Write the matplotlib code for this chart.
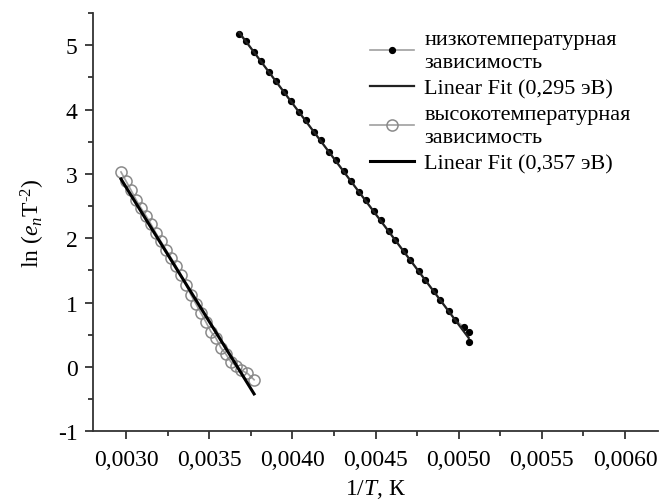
import numpy as np
import matplotlib.pyplot as plt
from matplotlib.ticker import FuncFormatter, MultipleLocator

plt.rcParams['font.family'] = ['Liberation Serif', 'DejaVu Serif']
plt.rcParams['mathtext.fontset'] = 'custom'
plt.rcParams['mathtext.rm'] = 'Liberation Serif'
plt.rcParams['mathtext.it'] = 'Liberation Serif:italic'

# -------------------------------------------------------------
# Данные
low_x = [0.00368, 0.00372, 0.00377, 0.00381, 0.00386, 0.00390, 0.00395, 0.00399,
         0.00404, 0.00408, 0.00413, 0.00417, 0.00422, 0.00426, 0.00431, 0.00435,
         0.00440, 0.00444, 0.00449, 0.00453, 0.00458, 0.00462, 0.00467, 0.00471,
         0.00476, 0.00480, 0.00485, 0.00489, 0.00494, 0.00498, 0.00503, 0.00506,
         0.00506]
low_y = [5.17, 5.06, 4.89, 4.75, 4.58, 4.44, 4.27, 4.13,
         3.96, 3.83, 3.65, 3.52, 3.34, 3.21, 3.04, 2.89,
         2.72, 2.59, 2.42, 2.28, 2.11, 1.97, 1.80, 1.66,
         1.49, 1.35, 1.18, 1.04, 0.87, 0.73, 0.62, 0.55,
         0.38]

high_x = [0.00297, 0.00300, 0.00303, 0.00306, 0.00309, 0.00312, 0.00315, 0.00318,
          0.00321, 0.00324, 0.00327, 0.00330, 0.00333, 0.00336, 0.00339, 0.00342,
          0.00345, 0.00348, 0.00351, 0.00354, 0.00357, 0.00360, 0.00363, 0.00366,
          0.00369, 0.00373, 0.00377]
high_y = [3.03, 2.89, 2.75, 2.60, 2.47, 2.35, 2.22, 2.08,
          1.95, 1.82, 1.70, 1.57, 1.43, 1.28, 1.12, 0.98,
          0.84, 0.70, 0.55, 0.45, 0.30, 0.20, 0.08, 0.02,
          -0.05, -0.10, -0.20]

fit_low_x = [0.00368, 0.00506]
fit_low_y = [5.20, 0.45]
fit_high_x = [0.00297, 0.00377]
fit_high_y = [2.92, -0.42]

labels = ["низкотемпературная\nзависимость",
          "Linear Fit (0,295 эВ)",
          "высокотемпературная\nзависимость",
          "Linear Fit (0,357 эВ)"]

# -------------------------------------------------------------
# Plot
fig = plt.figure(figsize=(6.67, 5.02), dpi=100)
ax = fig.add_axes([0.139, 0.139, 0.848, 0.833])

ax.plot(low_x, low_y, '-', color='#a0a0a0', linewidth=1.2,
        marker='o', markersize=4.2, markerfacecolor='black',
        markeredgecolor='black', label=labels[0])
ax.plot(fit_low_x, fit_low_y, '-', color='#222222', linewidth=1.6,
        label=labels[1])
ax.plot(high_x, high_y, '-', color='#a0a0a0', linewidth=1.2,
        marker='o', markersize=8, markerfacecolor='none',
        markeredgecolor='#8a8a8a', markeredgewidth=1.1, label=labels[2])
ax.plot(fit_high_x, fit_high_y, '-', color='black', linewidth=2.2,
        label=labels[3])

ax.set_xlim(0.0028, 0.0062)
ax.set_ylim(-1, 5.5)

ax.xaxis.set_major_locator(MultipleLocator(0.0005))
ax.xaxis.set_minor_locator(MultipleLocator(0.00025))
ax.yaxis.set_major_locator(MultipleLocator(1))
ax.yaxis.set_minor_locator(MultipleLocator(0.5))
ax.xaxis.set_major_formatter(FuncFormatter(lambda v, p: f"{v:.4f}".replace('.', ',')))
ax.yaxis.set_major_formatter(FuncFormatter(lambda v, p: f"{v:.0f}".replace('\u2212', '-')))

for side in ['top', 'right']:
    ax.spines[side].set_visible(False)
for side in ['left', 'bottom']:
    ax.spines[side].set_color('#333333')
    ax.spines[side].set_linewidth(1.3)

ax.tick_params(which='major', direction='out', length=6, width=1.3,
               color='#333333', labelsize=17, pad=5)
ax.tick_params(which='minor', direction='out', length=3.5, width=1.3,
               color='#333333')
ax.tick_params(axis='x', which='major', pad=7)

ax.set_xlabel(r"1/$T$, К", fontsize=17, labelpad=5)
ax.set_ylabel(r"ln $(e_n\mathrm{T}^{\text{-}2})$", fontsize=17, labelpad=8)

leg = ax.legend(loc='upper left', bbox_to_anchor=(0.49, 0.96), frameon=False,
                fontsize=16, handlelength=2.0, handletextpad=0.45,
                labelspacing=0.27, borderaxespad=0.0, borderpad=0.0)
for t in leg.get_texts():
    t.set_linespacing(1.3)

fig.savefig("out.png", dpi=100)
plt.close(fig)
